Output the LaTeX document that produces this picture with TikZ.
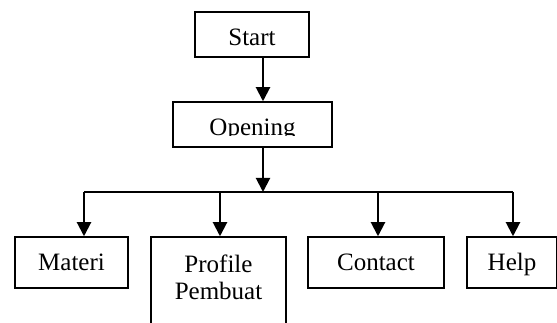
\documentclass[tikz,border=0pt]{standalone}
\usepackage{fontspec}
\setmainfont{Liberation Serif}
\usetikzlibrary{arrows.meta,calc}

\begin{document}
\begin{tikzpicture}[x=1pt,y=1pt,yscale=-1,xscale=1,
  lbl/.style={font=\fontsize{25}{27}\selectfont},
  box/.style={draw,line width=1.5pt,inner sep=0pt,lbl,text height=16.5pt,text depth=0pt},
  topbox/.style={box,text height=21.5pt},
  arr/.style={line width=2pt,-{Triangle[width=14pt,length=14pt]}}]
\useasboundingbox (0,0) rectangle (557,323);
\clip (0,0) rectangle (557,323);

% boxes
\node[topbox,minimum width=114pt,minimum height=45pt] (start) at (252,34.5) {Start};
\node[box,minimum width=159pt,minimum height=45pt] (opening) at (252.5,124.5) {};
\begin{scope}
\clip (opening.north west) rectangle ($(opening.east)+(0,11.5)$);
\node[topbox,draw=none] (openingtxt) at (opening) {Opening};
\end{scope}
\node[box,minimum width=113pt,minimum height=51pt] (materi) at (71.5,262.5) {Materi};
\node[box,minimum width=135pt,minimum height=100pt] (profile) at (218.5,287) {};
\node[lbl,align=center,anchor=north,inner sep=0pt] (profiletxt) at ($(profile.north)+(0,18)$) {Profile\\Pembuat};
\node[box,minimum width=136pt,minimum height=51pt] (contact) at (376,262.5) {Contact};
\node[box,minimum width=90pt,minimum height=51pt] (help) at (512,262.5) {Help};

% connectors
\coordinate (hub) at (263,192);
\coordinate (bm) at (84,192);
\coordinate (bp) at (220,192);
\coordinate (bc) at (378,192);
\coordinate (bh) at (513,192);
\draw[arr] (start.south -| hub) -- (opening.north -| hub);
\draw[arr] (opening.south -| hub) -- (hub);
\draw[line width=1.7pt] (bm) -- (bh);
\foreach \b/\n in {bm/materi,bp/profile,bc/contact,bh/help}
  \draw[arr] (\b) -- (\b |- \n.north);

\end{tikzpicture}
\end{document}
